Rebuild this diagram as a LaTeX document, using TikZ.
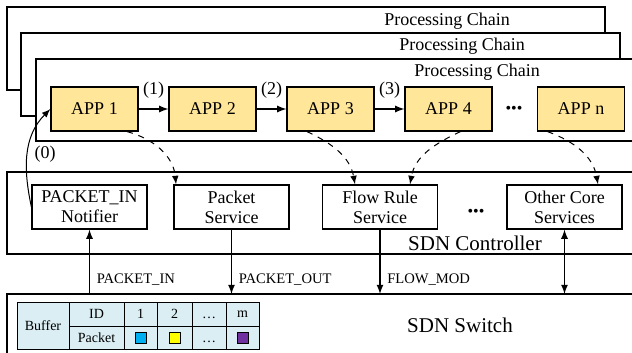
\documentclass[tikz,border=0pt]{standalone}
\usepackage{fontspec}
\setmainfont{Liberation Serif}
\usetikzlibrary{positioning}

\definecolor{appfill}{HTML}{FFE699}
\definecolor{buffill}{HTML}{DAEEF3}
\definecolor{pktblue}{HTML}{00B0F0}
\definecolor{pktyellow}{HTML}{FFFF00}
\definecolor{pktpurple}{HTML}{7030A0}

\begin{document}
\begin{tikzpicture}[
            x=0.5pt, y=-0.5pt,
            node distance=59pt,
            >=latex,
            line width=0.6pt,
            font=\fontsize{9}{10}\selectfont,
            app/.style={draw, fill=appfill, minimum width=43.5pt, minimum height=22pt, inner sep=0pt},
            service/.style={draw, fill=white, minimum width=57.5pt, minimum height=22pt, align=center, inner sep=0pt},
            layer/.style={draw, fill=white},
            call/.style={->, dashed, line width=0.5pt},
            msg/.style={font=\fontsize{7.3}{8}\selectfont},
            cellt/.style={font=\fontsize{7}{8}\selectfont, inner sep=0pt},
            pkt/.style={draw, line width=0.5pt, minimum size=5.5pt, inner sep=0pt}
            ]

            \useasboundingbox (0,0) rectangle (632,353);
            \clip (0,0) rectangle (632,353);

            % processing chains, back to front
            \draw[layer] (7,7) rectangle (605,90);
            \node (chaintitle1) at (447,21) {Processing Chain};
            \draw[layer] (21,33) rectangle (620,116);
            \node (chaintitle2) at (462,46) {Processing Chain};
            \draw[layer] (36,59) rectangle (640,141);
            \node (chaintitle3) at (477,72) {Processing Chain};

            % controller and switch
            \draw[layer] (7,172) rectangle (640,254);
            \node[font=\fontsize{10.5}{12}\selectfont] (ctrltitle) at (475,243) {SDN Controller};
            \draw[layer] (7,294) rectangle (640,370);
            \node[font=\fontsize{10.5}{12}\selectfont] (swtitle) at (460,325) {SDN Switch};
            \coordinate (swtop) at (0,294);

            % apps
            \node [app] (app1) at (94.5,109) {APP 1};
            \node [app, right of = app1] (app2) {APP 2};
            \node [app, right of = app2] (app3) {APP 3};
            \node [app, right of = app3] (app4) {APP 4};
            \node [app, right of = app4, node distance=66.25pt] (appn) {APP n};
            \node [font=\fontsize{8}{8}\selectfont] (appdots) at (514,110) {\textbullet\textbullet\textbullet};

            \draw[->] (app1) -- node[above=1.5pt]{(1)} (app2);
            \draw[->] (app2) -- node[above=1.5pt]{(2)} (app3);
            \draw[->] (app3) -- node[above=1.5pt]{(3)} (app4);

            % core services
            \node [service] (notifier) at (89.5,207) {PACKET\_IN\\Notifier};
            \node [service, right of = notifier, node distance=71pt] (pktsrv) {Packet\\Service};
            \node [service, right of = pktsrv, node distance=74.25pt] (flowsrv) {Flow Rule\\Service};
            \node [service, right of = flowsrv, node distance=92.25pt] (othersrv) {Other Core\\Services};
            \node [font=\fontsize{8}{8}\selectfont] (srvdots) at (476,213) {\textbullet\textbullet\textbullet};

            \draw[->, line width=0.5pt] (notifier.west) to[out=102, in=-135] node[right=0pt, pos=0.5]{(0)} (app1.west);
            \draw[call] ([xshift=16.25pt]app1.south) to[out=-15, in=95] ([xshift=-27.75pt]pktsrv.north);
            \draw[call] ([xshift=-11.75pt]app3.south) to[out=-25, in=100] ([xshift=-12.5pt]flowsrv.north);
            \draw[call] ([xshift=6pt]app4.south) to[out=-155, in=80] ([xshift=15pt]flowsrv.north);
            \draw[call] ([xshift=-16.75pt]appn.south) to[out=-20, in=100] ([xshift=16.75pt]othersrv.north);

            % controller <-> switch
            \draw[->] (notifier.south |- swtop) -- node[msg, right, pos=0.23]{PACKET\_IN} (notifier.south);
            \draw[->] (pktsrv.south) -- node[msg, right, pos=0.77]{PACKET\_OUT} (pktsrv.south |- swtop);
            \draw[->] (flowsrv.south) -- node[msg, right, pos=0.77]{FLOW\_MOD} (flowsrv.south |- swtop);
            \draw[<->] (othersrv.south) -- (othersrv.south |- swtop);

            % buffer table
            \draw[fill=buffill, line width=0.5pt] (17,302) rectangle (259,349);
            \draw[line width=0.5pt] (69,302) -- (69,349) (69,326) -- (259,326);
            \foreach \x in {124,157,192,226}
                \draw[line width=0.5pt] (\x,302) -- (\x,349);
            \node [cellt] (bufname) at (43,325.5) {Buffer};
            \node [cellt] (idhead) at (96.5,314) {ID};
            \node [cellt] (pkthead) at (96.5,337.5) {Packet};
            \foreach \x/\t/\n in {140.5/1/id1, 174.5/2/id2, 209/\vphantom{1}\ldots/iddots, 242.5/m/idm}
                \node [cellt] (\n) at (\x,314) {\t};
            \node [pkt, fill=pktblue] (pkt1) at (140.5,337.5) {};
            \node [pkt, fill=pktyellow] (pkt2) at (174.5,337.5) {};
            \node [cellt] (pktdots) at (209,337.5) {\vphantom{1}\ldots};
            \node [pkt, fill=pktpurple] (pktm) at (242.5,337.5) {};
        \end{tikzpicture}
\end{document}
